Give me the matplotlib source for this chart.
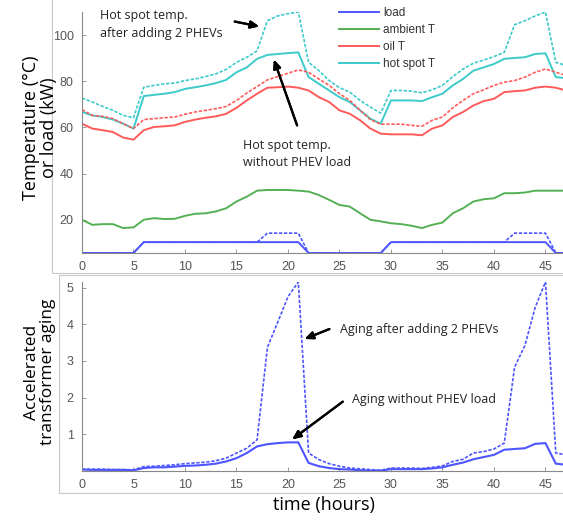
import matplotlib.pyplot as plt
from matplotlib.patches import Rectangle
import numpy as np

# hours 0..47
hours = list(range(48))

# top panel (temperature in degC, load in kW)
load_base = [5.6] * 6 + [10.3] * 16 + [5.6] * 8 + [10.3] * 16 + [5.6] * 2
load_phev = [5.6] * 6 + [10.3] * 12 + [14.2] * 4 + [5.6] * 8 + [10.3] * 12 + [14.2] * 4 + [5.6] * 2
ambient_t = [20.0, 17.8, 18.1, 18.1, 16.4, 16.7, 20.0, 20.7, 20.3, 20.4,
             21.7, 22.6, 22.8, 23.6, 25.0, 27.9, 30.0, 32.6, 32.9, 32.9,
             32.9, 32.6, 32.2, 30.7, 28.6, 26.4, 25.7, 22.8, 20.0, 19.3,
             18.5, 18.1, 17.4, 16.4, 17.8, 18.8, 22.8, 25.0, 27.9, 28.9,
             29.3, 31.5, 31.5, 31.8, 32.6, 32.6, 32.6, 32.6]
oil_t = [61.6, 59.5, 58.8, 58.0, 55.6, 54.7, 58.8, 60.2, 60.5, 60.9,
         62.4, 63.4, 64.2, 64.8, 65.9, 68.5, 71.7, 74.6, 77.2, 77.4,
         77.7, 77.2, 76.0, 73.1, 71.0, 67.4, 65.9, 63.1, 59.5, 57.3,
         57.0, 57.0, 57.0, 56.6, 59.5, 60.9, 64.5, 66.7, 69.5, 71.4,
         72.4, 75.3, 75.7, 76.0, 77.2, 77.7, 77.2, 76.0]
oil_t_phev = [67.7, 65.2, 64.8, 63.8, 61.6, 59.5, 63.4, 63.8, 64.2, 64.5,
              65.7, 66.7, 67.4, 68.1, 69.1, 71.7, 74.9, 77.7, 80.6, 82.0,
              83.5, 84.9, 83.9, 81.0, 78.2, 74.6, 71.7, 67.4, 63.4, 61.4,
              61.4, 61.4, 60.9, 60.5, 63.1, 64.5, 68.5, 71.7, 74.6, 76.3,
              78.2, 79.6, 80.3, 81.8, 83.9, 85.3, 83.9, 82.5]
hot_t = [66.7, 65.2, 64.5, 63.4, 61.6, 59.5, 73.6, 74.1, 74.6, 75.3,
         76.7, 77.4, 78.2, 79.2, 80.6, 83.9, 86.0, 89.7, 91.4, 91.8,
         92.2, 92.5, 81.8, 78.9, 76.0, 73.1, 71.0, 67.4, 63.8, 61.6,
         71.7, 71.7, 71.7, 71.4, 73.1, 74.6, 78.2, 81.0, 84.6, 86.0,
         87.5, 89.7, 90.1, 90.4, 91.8, 92.1, 81.8, 81.3]
hot_t_phev = [72.7, 71.0, 69.1, 67.4, 65.2, 64.2, 77.4, 78.2, 78.9, 79.2,
              80.3, 81.0, 82.0, 83.2, 85.1, 88.2, 90.4, 93.2, 106.2, 108.3,
              109.3, 110.0, 88.2, 84.6, 80.3, 77.2, 75.3, 71.7, 68.8, 66.2,
              76.0, 76.0, 75.7, 75.0, 76.3, 78.2, 82.0, 85.3, 87.8, 89.2,
              90.7, 92.5, 104.5, 106.2, 108.3, 110.0, 88.2, 86.8]

# bottom panel (accelerated aging factor)
aging = [0.04, 0.03, 0.03, 0.03, 0.03, 0.02, 0.08, 0.10, 0.10, 0.12,
         0.14, 0.15, 0.17, 0.20, 0.26, 0.35, 0.49, 0.67, 0.73, 0.76,
         0.78, 0.78, 0.22, 0.13, 0.08, 0.05, 0.04, 0.02, 0.01, 0.01,
         0.05, 0.05, 0.05, 0.05, 0.07, 0.10, 0.17, 0.23, 0.32, 0.38,
         0.44, 0.58, 0.60, 0.62, 0.74, 0.76, 0.20, 0.17]
aging_phev = [0.05, 0.05, 0.05, 0.04, 0.04, 0.03, 0.12, 0.13, 0.15, 0.17,
              0.20, 0.22, 0.24, 0.28, 0.35, 0.49, 0.62, 0.85, 3.37, 4.05,
              4.75, 5.15, 0.49, 0.31, 0.20, 0.13, 0.08, 0.06, 0.04, 0.02,
              0.08, 0.08, 0.08, 0.07, 0.10, 0.14, 0.26, 0.32, 0.49, 0.53,
              0.60, 0.76, 2.83, 3.42, 4.46, 5.15, 0.49, 0.44]

c_load = '#4d55ff'
c_amb = '#55b055'
c_oil = '#ff5a5a'
c_hot = '#3ccaca'
grey = '#555555'

W, H = 563, 522
fig = plt.figure(figsize=(W / 100, H / 100), dpi=100)
fig.patch.set_facecolor('white')

# panel frames (the two pasted figures)
fig.add_artist(Rectangle((52 / W, 1 - 273 / H), 1.2, 273 / H + 0.1, transform=fig.transFigure,
                         fill=False, edgecolor='#c8c8c8', linewidth=0.8))
fig.add_artist(Rectangle((59 / W, 1 - 493 / H), 1.2, (493 - 275) / H, transform=fig.transFigure,
                         fill=False, edgecolor='#c8c8c8', linewidth=0.8))


def style_axes(ax):
    for s in ['top', 'right']:
        ax.spines[s].set_visible(False)
    for s in ['left', 'bottom']:
        ax.spines[s].set_color('#888888')
        ax.spines[s].set_linewidth(0.8)
    ax.tick_params(direction='in', length=3, width=0.6, color='#888888',
                   labelcolor=grey, labelsize=9, pad=6)
    for lbl in ax.get_xticklabels() + ax.get_yticklabels():
        lbl.set_family('Liberation Sans')
    ax.set_facecolor('none')


# ---- top panel ----
ax1 = fig.add_axes([82 / W, 1 - 253 / H, 1 - 82 / W, (253 - 12) / H])
ax1.plot(hours, load_base, color=c_load, lw=1.4, label='load')
ax1.plot(hours, ambient_t, color=c_amb, lw=1.4, label='ambient T')
ax1.plot(hours, oil_t, color=c_oil, lw=1.4, label='oil T')
ax1.plot(hours, hot_t, color=c_hot, lw=1.4, label='hot spot T')
ax1.plot(hours, load_phev, color=c_load, lw=1.2, ls=(0, (2, 1)))
ax1.plot(hours, oil_t_phev, color=c_oil, lw=1.2, ls=(0, (2, 1)))
ax1.plot(hours, hot_t_phev, color=c_hot, lw=1.2, ls=(0, (2, 1)))
ax1.set_xlim(0, 46.7)
ax1.set_ylim(5.6, 110)
ax1.set_xticks(range(0, 50, 5))
ax1.set_yticks([20, 40, 60, 80, 100])
style_axes(ax1)
leg = ax1.legend(loc='upper left', bbox_to_anchor=(332 / W, 1.0), bbox_transform=fig.transFigure,
                 frameon=False, handlelength=3.4, handletextpad=0.3,
                 labelspacing=0.42, borderpad=0.1, prop={'family': 'Liberation Sans', 'size': 8.5})
for t in leg.get_texts():
    t.set_color('#333333')

# ---- bottom panel ----
ax2 = fig.add_axes([82 / W, 1 - 471 / H, 1 - 82 / W, (471 - 282) / H])
ax2.plot(hours, aging, color=c_load, lw=1.5)
ax2.plot(hours, aging_phev, color=c_load, lw=1.2, ls=(0, (2, 1)))
ax2.set_xlim(0, 46.7)
ax2.set_ylim(0, 5.15)
ax2.set_xticks(range(0, 50, 5))
ax2.set_yticks([1, 2, 3, 4, 5])
style_axes(ax2)

# axis labels and annotations
lab = dict(family='Open Sans', color='black', ha='center', va='center')
fig.text(40 / W, 1 - 128 / H, 'Temperature (°C)\nor load (kW)', rotation=90, fontsize=13,
         linespacing=1.05, **lab)
fig.text(40 / W, 1 - 372 / H, 'Accelerated\ntransformer aging', rotation=90, fontsize=12.5,
         linespacing=1.05, **lab)
fig.text(324 / W, 1 - 505 / H, 'time (hours)', fontsize=13, **lab)

ann = dict(family='Open Sans', fontsize=9, color='#222222', ha='left', va='center')
fig.text(100 / W, 1 - 15 / H, 'Hot spot temp.', **ann)
fig.text(100 / W, 1 - 33 / H, 'after adding 2 PHEVs', **ann)
fig.text(243 / W, 1 - 145 / H, 'Hot spot temp.', **ann)
fig.text(243 / W, 1 - 162 / H, 'without PHEV load', **ann)
fig.text(340 / W, 1 - 330 / H, 'Aging after adding 2 PHEVs', **ann)
fig.text(352 / W, 1 - 400 / H, 'Aging without PHEV load', **ann)

arrow = dict(arrowstyle='-|>,head_length=0.5,head_width=0.22', color='black', lw=1.6)


def fig_arrow(x0, y0, x1, y1):
    fig.add_artist(plt.annotate('', xy=(x1 / W, 1 - y1 / H), xytext=(x0 / W, 1 - y0 / H),
                                xycoords='figure fraction', textcoords='figure fraction',
                                arrowprops=arrow))


fig_arrow(232, 21, 262, 27)
fig_arrow(298, 128, 273, 57)
fig_arrow(332, 328, 302, 340)
fig_arrow(345, 400, 290, 441)

fig.savefig('out.png', dpi=100)
